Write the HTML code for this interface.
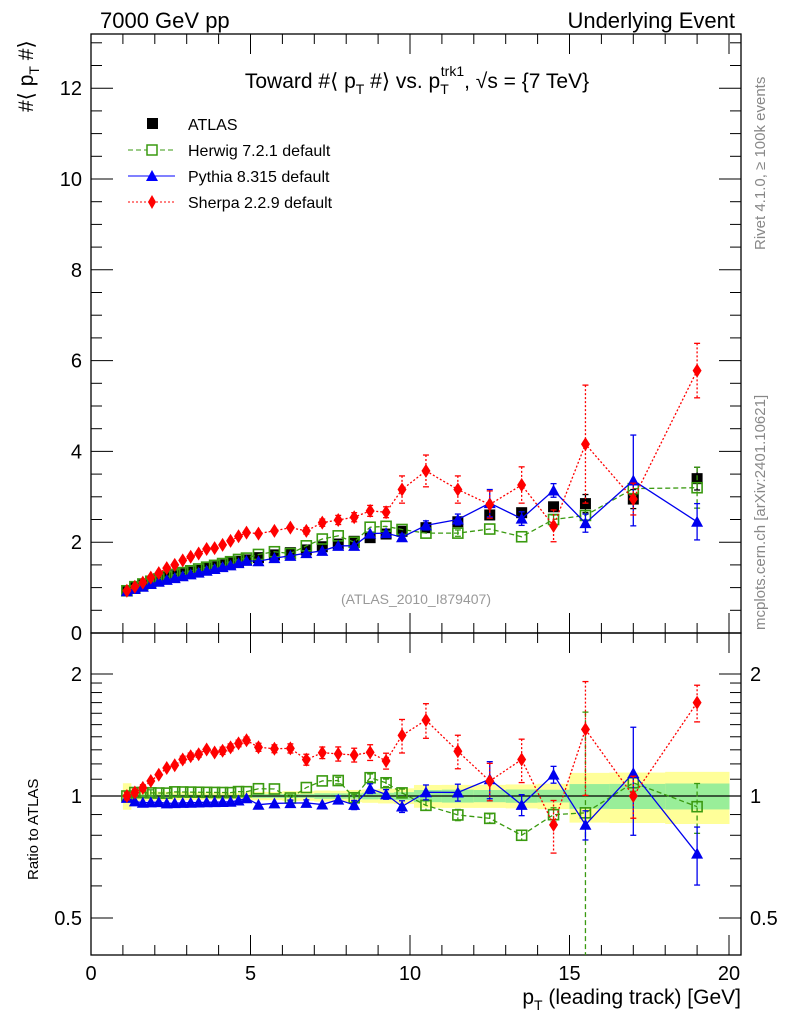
<!DOCTYPE html>
<html><head><meta charset="utf-8"><style>
body{margin:0;background:#fff}
svg{display:block;font-family:"Liberation Sans",sans-serif}
</style></head><body>
<svg id="c" width="786" height="1024" viewBox="0 0 786 1024">
<text x="100" y="28" font-size="22">7000 GeV pp</text>
<text x="735" y="28" font-size="22" text-anchor="end">Underlying Event</text>
<text x="417" y="88" font-size="21" text-anchor="middle">Toward #⟨ p<tspan font-size="14" dy="6">T</tspan><tspan dy="-6"> #⟩ vs. p</tspan><tspan font-size="14" dy="6">T</tspan><tspan font-size="14" dx="-8" dy="-18">trk1</tspan><tspan dy="12">, √s = {7 TeV}</tspan></text>
<text transform="translate(33,112) rotate(-90)" font-size="21">#⟨ p<tspan font-size="14" dy="6">T</tspan><tspan dy="-6"> #⟩</tspan></text>
<text transform="translate(38,880) rotate(-90)" font-size="15">Ratio to ATLAS</text>
<text x="741" y="1004" font-size="21" text-anchor="end">p<tspan font-size="14" dy="6">T</tspan><tspan dy="-6"> (leading track) [GeV]</tspan></text>
<text transform="translate(765,250) rotate(-90)" font-size="15" fill="#888">Rivet 4.1.0, ≥ 100k events</text>
<text transform="translate(765,630) rotate(-90)" font-size="15" fill="#888">mcplots.cern.ch [arXiv:2401.10621]</text>
<text x="416" y="604" font-size="14" fill="#999" text-anchor="middle">(ATLAS_2010_I879407)</text>
<g id="legend">
<rect x="147" y="118" width="11" height="11" fill="#000"/>
<text x="188" y="130" font-size="16">ATLAS</text>
<line x1="128" y1="150" x2="175" y2="150" stroke="#3a9a10" stroke-dasharray="5,3"/>
<rect x="147" y="145" width="10" height="10" fill="#fff" stroke="#3a9a10" stroke-width="1.5"/>
<text x="188" y="156" font-size="16">Herwig 7.2.1 default</text>
<line x1="128" y1="176" x2="175" y2="176" stroke="#00f"/>
<path d="M152,170 L158,181 L146,181Z" fill="#00f"/>
<text x="188" y="182" font-size="16">Pythia 8.315 default</text>
<line x1="128" y1="202" x2="175" y2="202" stroke="#f00" stroke-dasharray="2,2"/>
<path d="M152,195 L156,202 L152,209 L148,202Z" fill="#f00"/>
<text x="188" y="208" font-size="16">Sherpa 2.2.9 default</text>
</g>
</svg>
<script>
const xs=[1.125,1.375,1.625,1.875,2.125,2.375,2.625,2.875,3.125,3.375,3.625,3.875,4.125,4.375,4.625,4.875,5.25,5.75,6.25,6.75,7.25,7.75,8.25,8.75,9.25,9.75,10.5,11.5,12.5,13.5,14.5,15.5,17,19];
const atlas=[0.93,1.0,1.06,1.12,1.17,1.22,1.26,1.3,1.34,1.38,1.42,1.46,1.5,1.54,1.58,1.61,1.66,1.72,1.77,1.83,1.9,1.96,2.02,2.1,2.18,2.24,2.32,2.45,2.6,2.65,2.78,2.85,2.95,3.4];
const atlasStat=[0.01,0.01,0.01,0.01,0.01,0.01,0.01,0.01,0.01,0.01,0.01,0.01,0.01,0.01,0.01,0.01,0.02,0.02,0.02,0.02,0.03,0.03,0.03,0.04,0.04,0.05,0.08,0.09,0.09,0.1,0.1,0.2,0.21,0.25];
const atlasTot=[0.07,0.03,0.03,0.03,0.03,0.03,0.03,0.03,0.03,0.03,0.03,0.03,0.03,0.03,0.03,0.04,0.04,0.04,0.05,0.05,0.06,0.06,0.07,0.08,0.09,0.1,0.15,0.16,0.17,0.18,0.2,0.4,0.42,0.5];
const herwig=[0.93,1.02,1.08,1.14,1.19,1.24,1.29,1.33,1.37,1.41,1.45,1.49,1.53,1.57,1.62,1.65,1.73,1.79,1.75,1.92,2.07,2.14,2.0,2.33,2.35,2.28,2.2,2.2,2.29,2.12,2.5,2.59,3.18,3.2];
const herwigErr=[0.02,0.02,0.02,0.02,0.02,0.02,0.02,0.02,0.02,0.02,0.02,0.02,0.02,0.02,0.02,0.02,0.02,0.03,0.03,0.03,0.03,0.04,0.04,0.05,0.05,0.05,0.06,0.07,0.06,0.06,0.1,0.1,0.15,0.45];
const herwigRatioErr=[0.02,0.02,0.02,0.02,0.02,0.02,0.02,0.02,0.02,0.02,0.02,0.02,0.02,0.02,0.02,0.02,0.02,0.03,0.03,0.03,0.03,0.04,0.04,0.05,0.05,0.05,0.06,0.07,0.06,0.06,0.1,2.0,0.15,0.45];
const pythia=[0.92,0.97,1.02,1.08,1.13,1.17,1.21,1.25,1.29,1.33,1.37,1.41,1.45,1.49,1.54,1.59,1.58,1.65,1.7,1.76,1.81,1.92,1.92,2.19,2.2,2.11,2.37,2.5,2.86,2.52,3.14,2.42,3.36,2.45];
const pythiaErr=[0.01,0.01,0.01,0.01,0.01,0.01,0.01,0.01,0.01,0.01,0.01,0.01,0.01,0.01,0.02,0.02,0.02,0.02,0.03,0.03,0.03,0.04,0.05,0.06,0.06,0.07,0.1,0.12,0.3,0.15,0.15,0.2,1.0,0.4];
const sherpa=[0.93,1.02,1.11,1.22,1.32,1.43,1.5,1.6,1.68,1.75,1.85,1.87,1.94,2.03,2.13,2.21,2.19,2.25,2.32,2.25,2.43,2.49,2.55,2.69,2.66,3.16,3.57,3.16,2.83,3.26,2.36,4.16,2.95,5.78];
const sherpaErr=[0.02,0.02,0.02,0.02,0.02,0.02,0.02,0.03,0.03,0.03,0.03,0.03,0.04,0.04,0.04,0.04,0.05,0.05,0.06,0.07,0.08,0.1,0.1,0.12,0.12,0.3,0.35,0.3,0.3,0.4,0.35,1.3,0.35,0.6];
const xTicks=[0,5,10,15,20];
const yTicks=[0,2,4,6,8,10,12];
const rTicks=[0.5,1,2];

const NS='http://www.w3.org/2000/svg';
const svg=document.getElementById('c');
const L=91,R=741,T=34,MB=633,RB=955;
const X=v=>L+v*31.9;
const Y=v=>MB-v*45.4;
const RY=r=>796-122*Math.log2(r);
function mk(tag,attrs,parent){const e=document.createElementNS(NS,tag);for(const k in attrs)e.setAttribute(k,attrs[k]);(parent||svg).appendChild(e);return e;}

const bands=mk('g',{});


function edgeL(i){return i==0?1:(xs[i-1]+xs[i])/2;}
function edgeR(i){return i==xs.length-1?20:(xs[i]+xs[i+1])/2;}
xs.forEach((x,i)=>{
  const lo=edgeL(i),hi=edgeR(i);
  const t=atlasTot[i]/atlas[i],s=atlasStat[i]/atlas[i];
  const y1=mk('rect',{x:X(lo),y:RY(1+t),width:X(hi)-X(lo)+0.5,height:RY(1-t)-RY(1+t),fill:'#ffff99'},bands);
  
  
  const g1=mk('rect',{x:X(lo),y:RY(1+s),width:X(hi)-X(lo)+0.5,height:RY(1-s)-RY(1+s),fill:'#99ee99'},bands);
  
  
});
const one=mk('line',{x1:L,x2:R,y1:RY(1),y2:RY(1),stroke:'#000','stroke-width':1.2});



const f1=mk('rect',{x:L,y:T,width:R-L,height:MB-T,fill:'none',stroke:'#000','stroke-width':1.3});


const f2=mk('rect',{x:L,y:MB,width:R-L,height:RB-MB,fill:'none',stroke:'#000','stroke-width':1.3});



for(let v=0;v<=20.5;v+=1){
  const maj=v%5==0,len=maj?20:10;
  [[MB,-1],[RB,-1],[T,1],[MB,1]].forEach(([y0,d])=>{
    const t=mk('line',{x1:X(v),x2:X(v),y1:y0,y2:y0+d*len,stroke:'#000'});
    
    
  });
}
xTicks.forEach(v=>{
  const t=mk('text',{x:X(v),y:980,'font-size':20,'text-anchor':'middle'});
  t.textContent=v;
  
  
});
for(let v=0;v<=13;v+=0.5){
  const maj=v%2==0,len=maj?22:11;if(Y(v)<T)break;
  [[L,1],[R,-1]].forEach(([x0,d])=>{
    const t=mk('line',{x1:x0,x2:x0+d*len,y1:Y(v),y2:Y(v),stroke:'#000'});
    
    
  });
}
yTicks.forEach(v=>{
  const t=mk('text',{x:82,y:Y(v)+7,'font-size':20,'text-anchor':'end'});
  t.textContent=v;
  
  
});
[0.5,0.6,0.7,0.8,0.9,1,1.1,1.2,1.3,1.4,1.5,1.6,1.7,1.8,1.9,2].forEach(r=>{
  const maj=rTicks.includes(r),len=maj?22:11;
  [[L,1],[R,-1]].forEach(([x0,d])=>{
    const t=mk('line',{x1:x0,x2:x0+d*len,y1:RY(r),y2:RY(r),stroke:'#000'});
    
    
  });
});
rTicks.forEach(r=>{
  [[82,'end'],[750,'start']].forEach(([x0,a])=>{
    const t=mk('text',{x:x0,y:RY(r)+7,'font-size':20,'text-anchor':a});
    t.textContent=r;
    
    
  });
});

const defs=mk('defs',{});
const cp1=mk('clipPath',{id:'cm'},defs);mk('rect',{x:L,y:T,width:R-L,height:MB-T},cp1);
const cp2=mk('clipPath',{id:'cr'},defs);mk('rect',{x:L,y:MB,width:R-L,height:RB-MB},cp2);

function series(name,vals,errs,color,dash,marker,isRatio){
  const g=mk('g',{'clip-path':isRatio?'url(#cr)':'url(#cm)'});
  
  
  const fy=(i,v)=>isRatio?RY(v/atlas[i]):Y(v);
  if(dash!==null){
    const p=mk('polyline',{points:vals.map((v,i)=>X(xs[i])+','+fy(i,v)).join(' '),fill:'none',stroke:color,'stroke-width':1.3,'stroke-dasharray':dash},g);
    
    
  }
  vals.forEach((v,i)=>{
    const cx=X(xs[i]),cy=fy(i,v),ya=fy(i,v+errs[i]),yb=fy(i,Math.max(v-errs[i],0.01));
    if(Math.abs(yb-ya)>6){
      const e=mk('line',{x1:cx,x2:cx,y1:ya,y2:yb,stroke:color,'stroke-width':1.3,'stroke-dasharray':dash||'none'},g);
      
      
      [ya,yb].forEach(yy=>{const c=mk('line',{x1:cx-3,x2:cx+3,y1:yy,y2:yy,stroke:color,'stroke-width':1.3},g);
        
        });
    }
    let m;
    if(marker=='sq')m=mk('rect',{x:cx-5.5,y:cy-5.5,width:11,height:11,fill:color},g);
    else if(marker=='osq')m=mk('rect',{x:cx-5,y:cy-5,width:10,height:10,fill:'none',stroke:color,'stroke-width':1.6},g);
    else if(marker=='tri')m=mk('path',{d:`M${cx},${cy-6} L${cx+6},${cy+5} L${cx-6},${cy+5}Z`,fill:color},g);
    else m=mk('path',{d:`M${cx},${cy-7} L${cx+4.5},${cy} L${cx},${cy+7} L${cx-4.5},${cy}Z`,fill:color},g);
    
    
  });
}
series('atlas',atlas,atlasStat,'#000',null,'sq',false);
series('herwig',herwig,herwigErr,'#3a9a10','5,3','osq',false);
series('pythia',pythia,pythiaErr,'#0000ee','','tri',false);
series('sherpa',sherpa,sherpaErr,'#ff0000','2,2','dia',false);
series('herwig',herwig,herwigRatioErr,'#3a9a10','5,3','osq',true);
series('pythia',pythia,pythiaErr,'#0000ee','','tri',true);
series('sherpa',sherpa,sherpaErr,'#ff0000','2,2','dia',true);
</script>
</body></html>
